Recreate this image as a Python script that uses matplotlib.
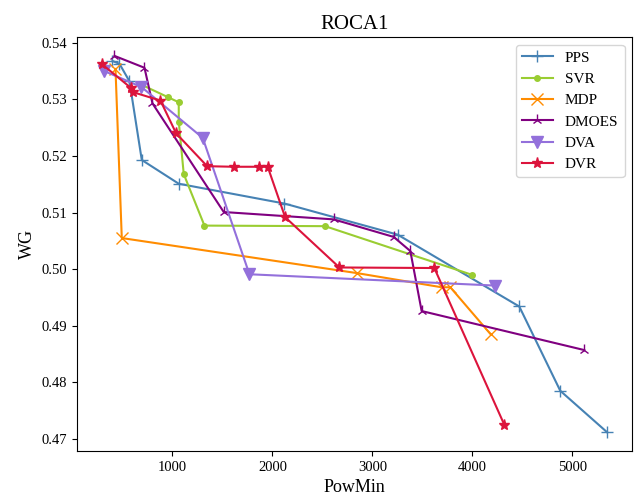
import matplotlib
matplotlib.use("Agg")
import matplotlib.pyplot as plt

plt.rcParams["font.family"] = ["Liberation Serif", "DejaVu Serif"]

# PowMin / WG pairs for each method
pps_x = [400, 470, 570, 693, 1063, 2120, 3253, 4470, 4880, 5347]
pps_y = [0.5368, 0.5363, 0.5332, 0.5193, 0.5151, 0.5116, 0.5061, 0.4934, 0.4785, 0.4712]

svr_x = [690, 955, 1063, 1063, 1113, 1320, 2527, 3997]
svr_y = [0.5326, 0.5304, 0.5295, 0.5261, 0.5168, 0.5077, 0.5076, 0.4990]

mdp_x = [430, 493, 2847, 3693, 3780, 4183]
mdp_y = [0.5354, 0.5055, 0.4993, 0.4968, 0.4968, 0.4885]

dmoes_x = [420, 720, 800, 1513, 2613, 3213, 3380, 3493, 5120]
dmoes_y = [0.5377, 0.5356, 0.5293, 0.5101, 0.5088, 0.5057, 0.5032, 0.4926, 0.4857]

dva_x = [320, 690, 1303, 1770, 4227]
dva_y = [0.5350, 0.5322, 0.5232, 0.4991, 0.4971]

dvr_x = [297, 587, 603, 880, 1037, 1347, 1613, 1870, 1953, 2127, 2670, 3620, 4320]
dvr_y = [0.5362, 0.5320, 0.5313, 0.5298, 0.5240, 0.5182, 0.5181, 0.5181, 0.5181,
         0.5092, 0.5003, 0.5002, 0.4725]

series = [
    ("PPS", pps_x, pps_y, "steelblue", "+", 8),
    ("SVR", svr_x, svr_y, "yellowgreen", ".", 8),
    ("MDP", mdp_x, mdp_y, "darkorange", "x", 8),
    ("DMOES", dmoes_x, dmoes_y, "purple", "2", 8),
    ("DVA", dva_x, dva_y, "mediumpurple", "v", 8),
    ("DVR", dvr_x, dvr_y, "crimson", "*", 8),
]

fig = plt.figure(figsize=(6.36, 5.01), dpi=100)
ax = fig.add_axes([0.121, 0.1, 0.873, 0.826])

for name, xs, ys, color, marker, ms in series:
    ax.plot(xs, ys, color=color, marker=marker, markersize=ms,
            linewidth=1.5, label=name)

ax.set_title("ROCA1", fontsize=15)
ax.set_xlabel("PowMin", fontsize=13)
ax.set_ylabel("WG", fontsize=13)
ax.tick_params(labelsize=10.5)
ax.legend(loc="upper right", fontsize=11)

fig.savefig("out.png", dpi=100)
